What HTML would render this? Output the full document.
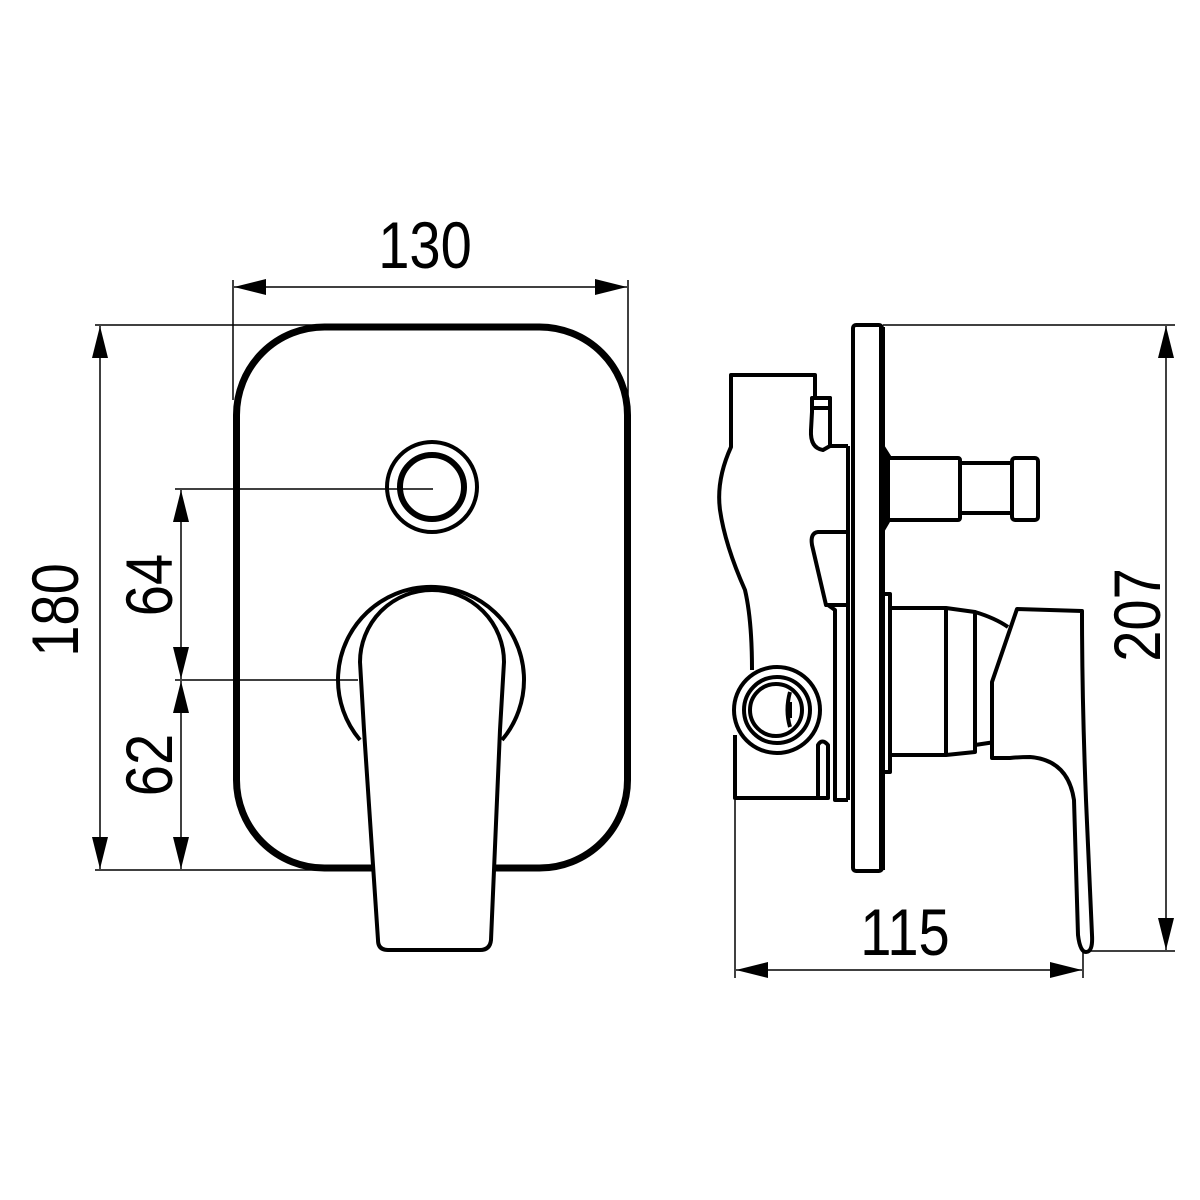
<!DOCTYPE html>
<html><head><meta charset="utf-8"><style>
html,body{margin:0;padding:0;background:#fff;}
svg{display:block;}
text{font-family:"Liberation Sans",sans-serif;font-size:66px;fill:#000;}
</style></head><body>
<svg width="1200" height="1200" viewBox="0 0 1200 1200" xmlns="http://www.w3.org/2000/svg">
<defs>
<marker id="a" viewBox="0 0 32 16" refX="32" refY="8" markerWidth="32" markerHeight="16" markerUnits="userSpaceOnUse" orient="auto-start-reverse">
<path d="M32,8 L0,0 L0,16 Z" fill="#000"/>
</marker>
</defs>
<g stroke="#000" stroke-width="1.5" fill="none">
<line x1="233" y1="280" x2="233" y2="400"/>
<line x1="628" y1="280" x2="628" y2="400"/>
<line x1="234" y1="287" x2="627" y2="287" marker-start="url(#a)" marker-end="url(#a)"/>
<line x1="95" y1="325" x2="330" y2="325"/>
<line x1="95" y1="870" x2="372" y2="870"/>
<line x1="100" y1="326" x2="100" y2="869" marker-start="url(#a)" marker-end="url(#a)"/>
<line x1="175" y1="489" x2="433" y2="489"/>
<line x1="175" y1="680" x2="358" y2="680"/>
<line x1="181" y1="490" x2="181" y2="679" marker-start="url(#a)" marker-end="url(#a)"/>
<line x1="181" y1="681" x2="181" y2="869" marker-start="url(#a)" marker-end="url(#a)"/>
<line x1="883" y1="325" x2="1175" y2="325"/>
<line x1="1085" y1="951" x2="1175" y2="951"/>
<line x1="1166" y1="326" x2="1166" y2="950" marker-start="url(#a)" marker-end="url(#a)"/>
<line x1="735" y1="800" x2="735" y2="978"/>
<line x1="1083" y1="945" x2="1083" y2="978"/>
<line x1="736" y1="970" x2="1082" y2="970" marker-start="url(#a)" marker-end="url(#a)"/>
</g>
<g transform="translate(425,268) scale(0.85,1)"><text text-anchor="middle">130</text></g>
<g transform="translate(905,955) scale(0.85,1)"><text text-anchor="middle">115</text></g>
<g transform="translate(78,610) rotate(-90) scale(0.85,1)"><text text-anchor="middle">180</text></g>
<g transform="translate(172,585) rotate(-90) scale(0.85,1)"><text text-anchor="middle">64</text></g>
<g transform="translate(172,765) rotate(-90) scale(0.85,1)"><text text-anchor="middle">62</text></g>
<g transform="translate(1160,615) rotate(-90) scale(0.85,1)"><text text-anchor="middle">207</text></g>

<g stroke="#000" fill="none" stroke-linejoin="round">
<rect x="236.5" y="327" width="391" height="541" rx="88" stroke-width="7"/>
<circle cx="432" cy="487" r="45" stroke-width="4"/>
<circle cx="432" cy="487" r="32" stroke-width="6"/>
<path d="M360,740 A93,93 0 1 1 502,740" stroke-width="4"/>
<path d="M364,730 L360,662 A72,72 0 0 1 504,662 L500,730 L491,940 Q490,950 480,950 L388,950 Q378,950 378,940 Z" fill="#fff" stroke-width="4"/>
</g>

<g stroke="#000" fill="none" stroke-width="4" stroke-linejoin="round">
<rect x="853" y="325" width="29" height="546" rx="3" fill="#fff"/>
<line x1="882" y1="327" x2="882" y2="870" stroke-width="6"/>
<path d="M883,447 L890,458 L890,518 L883,530" fill="#000"/>
<path d="M848,446 L830,446 L830,398 L815,398 L815,375 L731,375 L731,447 Q716,480 720,510 Q725,545 745,590 Q752,620 752,670"/>
<path d="M812,398 L830,398 L830,446 L823,450 Q810,448 811,430 L812,412 Z" fill="#fff"/>
<line x1="812" y1="408" x2="830" y2="408"/>
<path d="M848,532 L818,532 Q810,533 812,545 L826,605 L848,605"/>
<path d="M828,605 L835,610 L835,800 L848,800"/>
<path d="M848,446 L848,800"/>
<path d="M735,735 L735,798 L828,798 L828,745 Q822,738 818,745 L818,798"/>
<circle cx="777" cy="710" r="43" fill="#fff"/>
<circle cx="777" cy="710" r="33"/>
<circle cx="776" cy="710" r="26"/>
<path d="M790,692 Q785,710 790,727"/>
<line x1="790" y1="702" x2="790" y2="718"/>
<rect x="888" y="458" width="72" height="62" rx="2" fill="#fff"/>
<rect x="960" y="463" width="52" height="50" fill="#fff"/>
<rect x="1012" y="458" width="26" height="62" rx="3" fill="#fff"/>
<path d="M884,594 L890,594 L890,772 L884,772" stroke-width="4"/>
<path d="M890,608 L946,608 L975,612 L975,752 L946,755 L890,755"/>
<line x1="946" y1="608" x2="946" y2="755"/>
<path d="M975,612 Q995,618 1008,627"/>
<line x1="975" y1="745" x2="995" y2="742"/>
<path d="M1017,609 L1082,611 Q1082,700 1086,800 L1092,935 Q1093,952 1086,952 Q1080,952 1078,935 L1074,800 Q1068,760 1030,757 Q1020,757 1010,758 L992,758 L992,682 Z" fill="#fff"/>
</g>
</svg>
</body></html>
